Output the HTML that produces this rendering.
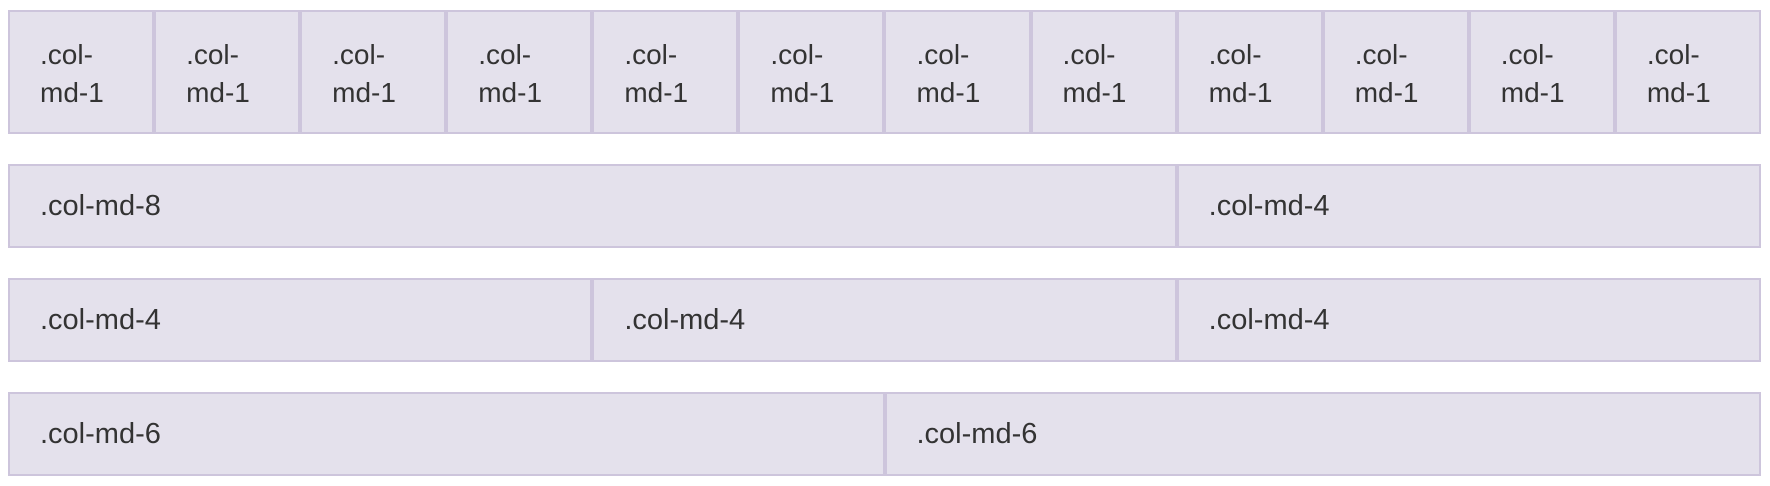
<!DOCTYPE html>
<html><head><style>
body{margin:0;width:1770px;height:486px;background:#fff;font-family:"Liberation Sans",Arial,sans-serif;color:#333;}
.row{position:absolute;left:8px;width:1753px;display:flex;}
.c{box-sizing:border-box;background:#e4e1ec;border:2px solid #cdc5dc;padding:0 0 0 30px;font-size:29px;display:flex;align-items:center;}
.c1{width:calc(1753px/12);line-height:38px;padding-top:4px;font-size:28px;}
.c4{width:calc(1753px/3);}
.c6{width:calc(1753px/2);}
.c8{width:calc(1753px*2/3);}
</style></head><body>
<div class="row" style="top:10px;height:124px">
<div class="c c1">.col-<br>md-1</div><div class="c c1">.col-<br>md-1</div><div class="c c1">.col-<br>md-1</div><div class="c c1">.col-<br>md-1</div><div class="c c1">.col-<br>md-1</div><div class="c c1">.col-<br>md-1</div><div class="c c1">.col-<br>md-1</div><div class="c c1">.col-<br>md-1</div><div class="c c1">.col-<br>md-1</div><div class="c c1">.col-<br>md-1</div><div class="c c1">.col-<br>md-1</div><div class="c c1">.col-<br>md-1</div>
</div>
<div class="row" style="top:164px;height:84px"><div class="c c8">.col-md-8</div><div class="c c4">.col-md-4</div></div>
<div class="row" style="top:278px;height:84px"><div class="c c4">.col-md-4</div><div class="c c4">.col-md-4</div><div class="c c4">.col-md-4</div></div>
<div class="row" style="top:392px;height:84px"><div class="c c6">.col-md-6</div><div class="c c6">.col-md-6</div></div>
</body></html>
